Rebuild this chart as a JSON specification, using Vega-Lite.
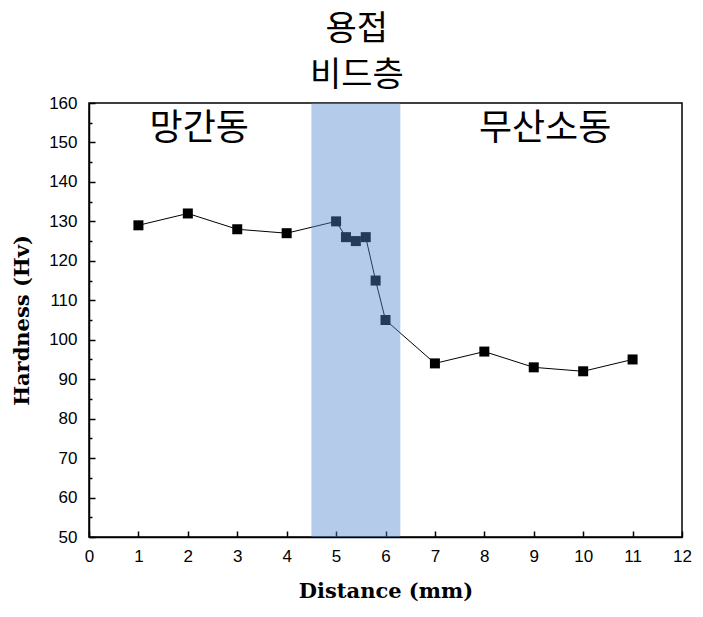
{
  "$schema": "https://vega.github.io/schema/vega-lite/v6.json",
  "autosize": "none",
  "width": 593,
  "height": 434,
  "padding": {"left": 89, "top": 103, "right": 21, "bottom": 80},
  "background": "white",
  "config": {
    "view": {"stroke": "black", "strokeWidth": 1.5},
    "axis": {
      "domainColor": "black", "domainWidth": 1.5,
      "tickColor": "black", "tickWidth": 1.5,
      "labelFont": "Liberation Sans", "labelFontSize": 17, "labelColor": "black", "labelOverlap": false, "labelFlush": false, "labelBound": false,
      "titleFont": "DejaVu Serif", "titleFontSize": 21, "titleFontWeight": "bold", "titleColor": "black",
      "grid": false
    }
  },
  "datasets": {
    "pts": [
      {"d": 1, "h": 129}, {"d": 2, "h": 132}, {"d": 3, "h": 128}, {"d": 4, "h": 127},
      {"d": 5, "h": 130}, {"d": 5.2, "h": 126}, {"d": 5.4, "h": 125}, {"d": 5.6, "h": 126},
      {"d": 5.8, "h": 115}, {"d": 6, "h": 105}, {"d": 7, "h": 94}, {"d": 8, "h": 97},
      {"d": 9, "h": 93}, {"d": 10, "h": 92}, {"d": 11, "h": 95}
    ],
    "band": [{"a": 4.5, "b": 6.3}],
    "labels": [
      {"d": 2.23, "h": 153.5, "t": "망간동", "s": 36},
      {"d": 9.23, "h": 153.5, "t": "무산소동", "s": 36},
      {"d": 5.42, "h": 178.5, "t": "용접", "s": 34},
      {"d": 5.42, "h": 166.9, "t": "비드층", "s": 34}
    ]
  },
  "layer": [
    {
      "encoding": {
        "x": {"field": "d", "type": "quantitative",
          "scale": {"domain": [0, 12], "nice": false},
          "axis": {"title": "Distance (mm)", "values": [0,1,2,3,4,5,6,7,8,9,10,11,12], "tickSize": -6, "labelPadding": 17, "titlePadding": 16, "labelOverlap": false, "labelFlush": false}},
        "y": {"field": "h", "type": "quantitative",
          "scale": {"domain": [50, 160], "nice": false, "zero": false},
          "axis": {"title": "Hardness (Hv)",
            "values": [50,55,60,65,70,75,80,85,90,95,100,105,110,115,120,125,130,135,140,145,150,155,160],
            "labelExpr": "datum.value % 10 == 0 ? datum.label : ''",
            "labelOverlap": false, "labelFlush": false,
            "tickSize": {"condition": {"test": "datum.value % 10 != 0", "value": -3}, "value": -6},
            "labelPadding": 18, "titlePadding": 16}}
      },
      "layer": [
        {
          "data": {"name": "pts"},
          "mark": {"type": "line", "color": "black", "strokeWidth": 1}
        },
        {
          "data": {"name": "pts"},
          "mark": {"type": "square", "color": "black", "opacity": 1, "filled": true, "size": 100}
        },
        {
          "data": {"name": "labels"},
          "mark": {"type": "text", "font": "Noto Sans CJK KR", "color": "black", "align": "center", "baseline": "middle"},
          "encoding": {"text": {"field": "t"}, "size": {"field": "s", "type": "quantitative", "scale": null}}
        }
      ]
    },
    {
      "data": {"name": "band"},
      "mark": {"type": "rect", "color": "#5187cd", "opacity": 0.43},
      "encoding": {
        "x": {"field": "a", "type": "quantitative"},
        "x2": {"field": "b"}
      }
    }
  ]
}
